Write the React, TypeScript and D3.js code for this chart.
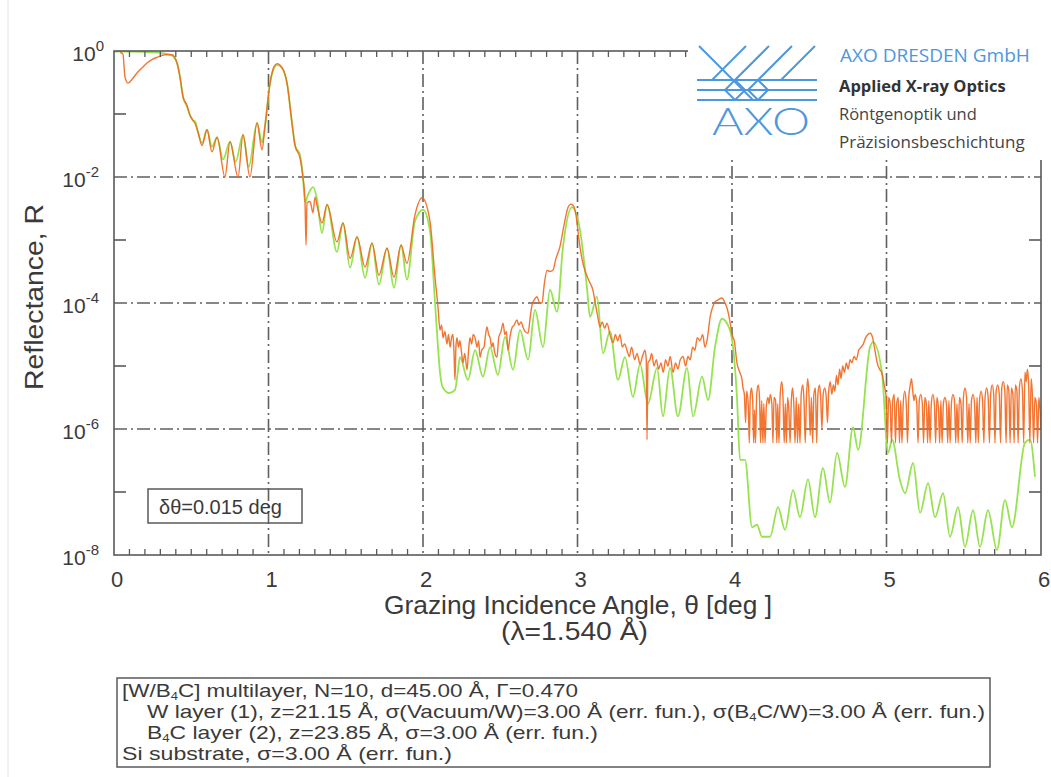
import React from 'react';
import * as d3 from 'd3';

const W = 1051;
const H = 777;

// axis values
const xTickValues = [0, 1, 2, 3, 4, 5, 6];
const xGridValues = [1, 2, 3, 4, 5];
const yLabelExponents = [0, -2, -4, -6, -8];
const yGridExponents = [-2, -4, -6];
const yOddExponents = [-1, -3, -5, -7];

// calculated reflectivity (green): [theta deg, log10 R]
const calculated: [number, number][] = [
  [0.0, -0.01], [0.1, -0.01], [0.2, -0.015], [0.3, -0.03], [0.35, -0.05], [0.38, -0.08],
  [0.408, -0.19], [0.427, -0.41], [0.447, -0.73], [0.472, -0.88], [0.492, -1.02], [0.511, -1.1],
  [0.525, -1.12], [0.544, -1.29], [0.57, -1.46], [0.602, -1.25], [0.634, -1.52], [0.667, -1.37],
  [0.706, -1.72], [0.751, -1.44], [0.787, -1.76], [0.835, -1.33], [0.872, -1.84], [0.926, -1.14],
  [0.958, -1.45], [0.977, -1.2], [1.01, -0.51], [1.035, -0.28], [1.055, -0.22], [1.087, -0.27],
  [1.12, -0.51], [1.152, -1.14], [1.172, -1.5], [1.204, -1.65], [1.223, -2.0], [1.236, -2.4],
  [1.256, -2.28], [1.288, -2.16], [1.314, -2.35], [1.346, -2.89], [1.379, -2.44], [1.443, -3.19],
  [1.482, -2.73], [1.528, -3.44], [1.573, -2.95], [1.625, -3.6], [1.67, -3.05], [1.715, -3.71],
  [1.767, -3.13], [1.812, -3.76], [1.858, -3.08], [1.896, -3.63], [1.948, -2.7], [2.0, -2.52],
  [2.045, -2.85], [2.078, -4.0], [2.097, -4.7], [2.11, -5.1], [2.13, -5.35], [2.17, -5.43],
  [2.207, -5.38], [2.225, -5.1], [2.239, -4.86], [2.291, -5.22], [2.337, -4.75], [2.388, -5.17],
  [2.434, -4.7], [2.485, -5.14], [2.531, -4.54], [2.583, -5.06], [2.628, -4.43], [2.68, -4.9],
  [2.725, -4.11], [2.777, -4.7], [2.822, -3.79], [2.867, -4.14], [2.906, -3.11], [2.964, -2.48],
  [3.016, -2.84], [3.061, -3.75], [3.081, -4.22], [3.126, -3.9], [3.165, -4.8], [3.21, -4.45],
  [3.262, -5.22], [3.307, -4.86], [3.359, -5.49], [3.405, -4.97], [3.456, -5.6], [3.515, -5.03],
  [3.553, -5.8], [3.599, -5.03], [3.65, -5.8], [3.709, -5.03], [3.748, -5.8], [3.806, -5.17],
  [3.845, -5.54], [3.89, -4.7], [3.935, -4.25], [3.987, -4.43], [4.032, -5.49], [4.052, -6.49],
  [4.084, -6.49], [4.13, -7.56], [4.162, -7.52], [4.194, -7.71], [4.246, -7.71], [4.298, -7.24],
  [4.343, -7.6], [4.395, -6.97], [4.44, -7.4], [4.492, -6.8], [4.537, -7.4], [4.589, -6.62],
  [4.634, -7.17], [4.68, -6.38], [4.731, -6.92], [4.783, -5.97], [4.816, -6.33], [4.893, -4.7],
  [4.913, -4.62], [4.971, -5.11], [5.01, -6.38], [5.036, -6.17], [5.087, -6.81], [5.12, -7.02],
  [5.172, -6.54], [5.217, -7.33], [5.269, -6.86], [5.314, -7.4], [5.366, -7.02], [5.411, -7.71],
  [5.463, -7.24], [5.508, -7.87], [5.56, -7.29], [5.605, -7.87], [5.657, -7.29], [5.715, -7.92],
  [5.767, -7.13], [5.812, -7.56], [5.896, -6.22], [5.929, -6.17], [5.961, -6.76],
];

// measured reflectivity (orange): [theta deg, log10 R]
const measuredLow: [number, number][] = [
  [0.04, -0.02], [0.058, -0.05], [0.071, -0.41], [0.091, -0.51], [0.12, -0.44], [0.149, -0.35],
  [0.18, -0.27], [0.214, -0.19], [0.25, -0.13], [0.278, -0.1], [0.33, -0.06], [0.375, -0.06],
  [0.408, -0.19], [0.427, -0.41], [0.447, -0.73], [0.472, -0.86], [0.492, -1.02], [0.511, -1.1],
  [0.525, -1.15], [0.544, -1.29], [0.57, -1.5], [0.602, -1.25], [0.634, -1.6], [0.667, -1.37],
  [0.718, -2.0], [0.751, -1.44], [0.803, -2.0], [0.835, -1.33], [0.88, -2.0], [0.926, -1.14],
  [0.958, -1.57], [0.977, -1.2], [1.01, -0.51], [1.035, -0.25], [1.055, -0.2], [1.087, -0.26],
  [1.12, -0.51], [1.152, -1.14], [1.172, -1.5], [1.204, -1.7], [1.223, -2.0], [1.236, -2.37],
  [1.243, -3.08], [1.249, -2.41], [1.269, -2.39], [1.288, -2.57], [1.301, -2.32], [1.314, -2.45],
  [1.346, -2.73], [1.379, -2.44], [1.443, -3.03], [1.482, -2.73], [1.528, -3.29], [1.573, -2.95],
  [1.625, -3.43], [1.67, -3.05], [1.715, -3.56], [1.767, -3.13], [1.812, -3.59], [1.858, -3.08],
  [1.896, -3.37], [1.948, -2.6], [1.994, -2.33], [2.045, -2.7], [2.078, -3.6],
];

const measuredMid: [number, number][] = [
  [2.097, -4.06], [2.11, -4.43], [2.12, -4.35], [2.13, -4.55], [2.142, -4.45], [2.155, -4.65],
  [2.165, -4.5], [2.175, -4.7], [2.185, -4.55], [2.194, -4.5], [2.2, -4.75], [2.207, -5.22],
  [2.213, -4.7], [2.22, -4.55], [2.23, -4.7], [2.239, -4.6], [2.25, -4.8], [2.259, -4.95],
  [2.27, -4.8], [2.285, -5.06], [2.295, -4.75], [2.304, -4.55], [2.315, -4.65], [2.325, -4.5],
  [2.337, -4.55], [2.35, -4.7], [2.36, -4.6], [2.369, -4.86], [2.38, -4.75], [2.395, -4.7],
  [2.405, -4.5], [2.414, -4.38], [2.425, -4.5], [2.434, -4.55], [2.445, -4.7], [2.453, -4.63],
  [2.465, -4.8], [2.479, -4.86], [2.49, -4.55], [2.505, -4.45], [2.518, -4.32], [2.53, -4.5],
  [2.54, -4.45], [2.55, -4.75], [2.563, -4.54], [2.575, -4.4], [2.59, -4.35], [2.608, -4.27],
  [2.62, -4.35], [2.635, -4.3], [2.647, -4.38], [2.66, -4.45], [2.68, -4.48], [2.695, -4.2],
  [2.706, -4.03], [2.72, -3.95], [2.738, -3.9], [2.755, -4.0], [2.77, -4.0], [2.785, -3.7],
  [2.803, -3.48], [2.82, -3.5], [2.841, -3.48], [2.86, -3.3], [2.887, -3.1], [2.91, -2.8],
  [2.939, -2.48], [2.955, -2.43], [2.971, -2.45], [2.99, -2.6], [3.01, -3.0], [3.029, -3.3],
  [3.05, -3.5], [3.075, -3.65], [3.1, -3.8], [3.115, -4.0], [3.13, -4.2], [3.146, -4.38],
  [3.16, -4.3], [3.175, -4.4], [3.191, -4.32], [3.21, -4.5], [3.23, -4.63], [3.245, -4.5],
  [3.26, -4.6], [3.275, -4.5], [3.29, -4.7], [3.305, -4.65], [3.32, -4.75], [3.335, -4.85],
  [3.35, -4.7], [3.37, -4.9], [3.385, -4.8], [3.405, -4.97], [3.42, -4.85], [3.437, -4.75],
  [3.445, -4.9], [3.45, -6.17], [3.456, -4.95], [3.469, -4.9], [3.48, -4.8], [3.495, -5.0],
  [3.51, -4.9], [3.525, -5.05], [3.54, -4.95], [3.555, -5.1], [3.57, -4.9], [3.585, -5.0],
  [3.6, -4.85], [3.618, -5.1], [3.635, -4.95], [3.65, -5.05], [3.665, -4.9], [3.683, -4.85],
  [3.7, -5.0], [3.715, -4.85], [3.73, -4.9], [3.745, -4.7], [3.76, -4.75], [3.775, -4.55],
  [3.793, -4.6], [3.81, -4.5], [3.825, -4.7], [3.838, -4.6], [3.86, -4.2], [3.877, -4.05],
  [3.89, -3.98], [3.91, -3.95], [3.935, -3.92], [3.955, -4.0], [3.97, -4.1], [3.987, -4.3],
  [4.0, -4.5], [4.015, -4.6], [4.032, -4.95], [4.05, -5.1], [4.065, -5.22],
];

const measuredHigh: [number, number][] = [
  [4.07, -5.33], [4.08, -5.45], [4.088, -5.9], [4.095, -5.4], [4.105, -5.6], [4.112, -6.22],
  [4.118, -5.5], [4.126, -5.35], [4.134, -5.55], [4.14, -6.22], [4.146, -5.7], [4.152, -6.22],
  [4.16, -5.45], [4.17, -5.3], [4.178, -5.5], [4.185, -6.22], [4.192, -5.55], [4.2, -6.22],
  [4.206, -5.6], [4.214, -6.22], [4.222, -5.65], [4.232, -5.5], [4.24, -5.6], [4.248, -5.45],
  [4.258, -5.6], [4.265, -6.22], [4.272, -5.5], [4.282, -5.55], [4.29, -6.22], [4.296, -5.6],
  [4.304, -6.22], [4.312, -5.45], [4.322, -5.25], [4.33, -5.5], [4.338, -6.22], [4.345, -5.6],
  [4.352, -6.22], [4.36, -5.5], [4.368, -5.7], [4.376, -6.22], [4.384, -5.55], [4.392, -5.35],
  [4.4, -5.6], [4.408, -6.22], [4.416, -5.5], [4.424, -6.22], [4.432, -5.6], [4.44, -6.22],
  [4.448, -5.45], [4.458, -5.3], [4.466, -5.55], [4.474, -6.22], [4.482, -5.5], [4.49, -5.2],
  [4.498, -5.45], [4.506, -6.1], [4.514, -5.5], [4.522, -6.22], [4.53, -5.45], [4.54, -5.35],
  [4.548, -6.22], [4.556, -5.45], [4.566, -5.3], [4.574, -5.5], [4.582, -6.0], [4.59, -5.45],
  [4.6, -5.35], [4.61, -5.5], [4.618, -5.9], [4.626, -5.4], [4.636, -5.25], [4.646, -5.45],
  [4.656, -5.3], [4.666, -5.4], [4.676, -5.15], [4.686, -5.3], [4.696, -5.05], [4.706, -5.2],
  [4.716, -5.0], [4.728, -5.1], [4.74, -4.95], [4.752, -5.05], [4.764, -4.9], [4.776, -4.95],
  [4.79, -4.85], [4.805, -4.9], [4.82, -4.75], [4.835, -4.7], [4.85, -4.65], [4.865, -4.55],
  [4.88, -4.5], [4.895, -4.48], [4.91, -4.55], [4.925, -4.75], [4.94, -4.95], [4.955, -5.05],
  [4.97, -5.11], [4.985, -5.3], [4.998, -5.5], [5.006, -6.22], [5.014, -5.5], [5.024, -5.6],
  [5.032, -6.22], [5.04, -5.55], [5.05, -5.45], [5.058, -6.22], [5.066, -5.6], [5.076, -5.5],
  [5.084, -6.22], [5.092, -5.55], [5.1, -6.22], [5.108, -5.6], [5.118, -5.4], [5.128, -5.6],
  [5.136, -6.22], [5.144, -5.5], [5.154, -5.3], [5.162, -5.2], [5.17, -5.4], [5.178, -5.55],
  [5.186, -5.45], [5.196, -5.6], [5.204, -6.22], [5.212, -5.55], [5.222, -5.45], [5.232, -5.6],
  [5.24, -6.22], [5.248, -5.5], [5.258, -5.6], [5.266, -6.22], [5.274, -5.55], [5.282, -6.22],
  [5.29, -5.6], [5.3, -5.45], [5.31, -5.6], [5.318, -6.22], [5.326, -5.5], [5.336, -5.65],
  [5.344, -6.22], [5.352, -5.55], [5.36, -6.22], [5.368, -5.6], [5.378, -5.5], [5.388, -5.6],
  [5.396, -6.22], [5.404, -5.55], [5.412, -6.22], [5.42, -5.6], [5.43, -5.45], [5.44, -5.55],
  [5.448, -6.22], [5.456, -5.6], [5.464, -6.22], [5.472, -5.5], [5.482, -5.6], [5.49, -6.22],
  [5.498, -5.5], [5.508, -5.35], [5.518, -5.5], [5.526, -6.22], [5.534, -5.6], [5.542, -6.22],
  [5.55, -5.55], [5.56, -5.45], [5.57, -5.6], [5.578, -6.22], [5.586, -5.5], [5.594, -6.22],
  [5.602, -5.55], [5.612, -5.4], [5.622, -5.55], [5.63, -6.22], [5.638, -5.5], [5.648, -5.35],
  [5.658, -5.5], [5.666, -6.22], [5.674, -5.45], [5.684, -5.3], [5.694, -5.45], [5.702, -6.22],
  [5.71, -5.4], [5.72, -5.3], [5.73, -5.45], [5.738, -6.22], [5.746, -5.35], [5.756, -5.25],
  [5.766, -5.4], [5.774, -6.22], [5.782, -5.3], [5.792, -5.4], [5.8, -6.22], [5.808, -5.35],
  [5.818, -5.45], [5.826, -6.22], [5.834, -5.3], [5.844, -5.4], [5.852, -6.22], [5.86, -5.35],
  [5.87, -5.2], [5.88, -5.4], [5.888, -6.22], [5.896, -5.1], [5.904, -5.25], [5.912, -5.05],
  [5.92, -5.3], [5.928, -6.22], [5.936, -5.2], [5.944, -5.45], [5.952, -6.22], [5.96, -5.5],
  [5.97, -5.6], [5.978, -6.22], [5.986, -5.5], [5.994, -5.7], [6.0, -6.0],
];

const measured = [...measuredLow, ...measuredMid, ...measuredHigh];

const AXIS = '#5a5a5a';
const TEXT = '#3a3a3a';
const ORANGE = '#f2661c';
const GREEN = '#97e24f';
const BLUE = '#4c97de';
const SANS = "'Liberation Sans', Arial, sans-serif";
const LOGO_FONT = "'Open Sans', 'Noto Sans', sans-serif";

export default function App() {
  const x = d3.scaleLinear().domain([0, 6]).range([114, 1041]);
  const y = d3.scaleLog().domain([1e-8, 1]).range([555, 51]);
  const [x0, x1] = x.range();
  const [yb, yt] = y.range();

  const line = d3
    .line<[number, number]>()
    .x((d) => x(d[0]))
    .y((d) => y(Math.pow(10, d[1])))
    .curve(d3.curveMonotoneX);

  const minorX = x.ticks(60).filter((v) => Math.abs(v - Math.round(v)) > 1e-6);
  const logoLeft = 688;
  const logoBottom = 160;

  const grid = '13,4,2,4';

  return (
    <svg
      width={W}
      height={H}
      style={{ position: 'absolute', left: 0, top: 0, background: '#fff' }}
      fontFamily={SANS}
    >
      <rect x={0} y={0} width={W} height={H} fill="#fff" />
      <line x1={8} y1={0} x2={8} y2={H} stroke="#e2e4ee" strokeWidth={1} />
      <defs>
        <clipPath id="plotClip">
          <rect x={x0} y={yt} width={x1 - x0} height={yb - yt} />
        </clipPath>
      </defs>

      {/* grid */}
      {xGridValues.map((v) => (
        <line key={'gx' + v} x1={x(v)} x2={x(v)} y1={yt} y2={yb} stroke="#606060" strokeWidth={1.6} strokeDasharray={grid} />
      ))}
      {yGridExponents.map((e) => (
        <line key={'gy' + e} x1={x0} x2={x1} y1={y(Math.pow(10, e))} y2={y(Math.pow(10, e))} stroke="#606060" strokeWidth={1.6} strokeDasharray={grid} />
      ))}

      {/* data */}
      <g clipPath="url(#plotClip)">
        <path d={line(calculated) || ''} fill="none" stroke={GREEN} strokeWidth={1.8} />
        <path d={line(measured) || ''} fill="none" stroke={ORANGE} strokeWidth={1.4} strokeOpacity={0.9} strokeLinejoin="round" />
      </g>

      {/* frame */}
      <rect x={x0} y={yt} width={x1 - x0} height={yb - yt} fill="none" stroke={AXIS} strokeWidth={1.6} />

      {/* ticks */}
      {minorX.map((v) => (
        <g key={'mx' + v}>
          <line x1={x(v)} x2={x(v)} y1={yb} y2={yb - 6} stroke={AXIS} strokeWidth={1.3} />
          {x(v) < logoLeft && <line x1={x(v)} x2={x(v)} y1={yt} y2={yt + 6} stroke={AXIS} strokeWidth={1.3} />}
        </g>
      ))}
      {yOddExponents.map((e) => (
        <g key={'ty' + e}>
          <line x1={x0} x2={x0 + 12} y1={y(Math.pow(10, e))} y2={y(Math.pow(10, e))} stroke={AXIS} strokeWidth={1.6} />
          <line x1={x1} x2={x1 - 12} y1={y(Math.pow(10, e))} y2={y(Math.pow(10, e))} stroke={AXIS} strokeWidth={1.6} />
        </g>
      ))}

      {/* tick labels */}
      {xTickValues.map((v) => (
        <text key={'xl' + v} x={x(v) + 3} y={587} textAnchor="middle" fontSize={22} fill={TEXT}>
          {v}
        </text>
      ))}
      {yLabelExponents.map((e) => (
        <text key={'yl' + e} x={e === 0 ? 104 : 99} y={y(Math.pow(10, e)) + 10} textAnchor="end" fontSize={21} fill={TEXT}>
          10
          <tspan fontSize={15} dy={-10}>{e === 0 ? '0' : '-' + Math.abs(e)}</tspan>
        </text>
      ))}

      {/* axis titles */}
      <text x={384} y={614} fontSize={25} fill={TEXT} textLength={388} lengthAdjust="spacingAndGlyphs">
        Grazing Incidence Angle, θ [deg ]
      </text>
      <text x={501} y={640} fontSize={25} fill={TEXT} textLength={147} lengthAdjust="spacingAndGlyphs">
        (λ=1.540 Å)
      </text>
      <text transform="translate(43,390) rotate(-90)" fontSize={26} fill={TEXT} textLength={186} lengthAdjust="spacingAndGlyphs">
        Reflectance, R
      </text>

      {/* resolution box */}
      <rect x={148} y={489} width={154} height={34} fill="none" stroke={AXIS} strokeWidth={1.5} />
      <text x={159} y={514} fontSize={20} fill={TEXT}>
        δθ=0.015 deg
      </text>

      {/* logo */}
      <rect x={logoLeft} y={24} width={W - logoLeft} height={logoBottom - 24} fill="#fff" />
      <g stroke={BLUE} strokeWidth={2} fill="none">
        <line x1={697} x2={817} y1={80} y2={80} />
        <line x1={697} x2={817} y1={90} y2={90} />
        <line x1={697} x2={817} y1={100} y2={100} />
        <line x1={699} y1={46} x2={753} y2={100} />
        <line x1={746} y1={46} x2={712} y2={80} />
        <line x1={769} y1={46} x2={735} y2={80} />
        <line x1={792} y1={46} x2={758} y2={80} />
        <line x1={815} y1={46} x2={781} y2={80} />
        <line x1={735} y1={80} x2={745} y2={90} />
        <line x1={745} y1={90} x2={735} y2={100} />
        <line x1={758} y1={80} x2={748} y2={90} />
        <line x1={748} y1={90} x2={758} y2={100} />
        <line x1={758} y1={80} x2={768} y2={90} />
        <line x1={768} y1={90} x2={758} y2={100} />
        <line x1={735} y1={80} x2={725} y2={90} />
        <line x1={725} y1={90} x2={735} y2={100} />
      </g>
      <text x={712} y={135} fontSize={38} fontFamily="Lato, 'Open Sans', sans-serif" fontWeight={300} fill={BLUE} textLength={98} lengthAdjust="spacingAndGlyphs">
        AXO
      </text>
      <text x={840} y={62} fontSize={19} fontFamily={LOGO_FONT} fill={BLUE}>
        AXO DRESDEN GmbH
      </text>
      <text x={839} y={92} fontSize={16.5} fontFamily={LOGO_FONT} fontWeight={700} fill="#333">
        Applied X-ray Optics
      </text>
      <text x={839} y={120} fontSize={16.5} fontFamily={LOGO_FONT} fill="#444">
        Röntgenoptik und
      </text>
      <text x={839} y={148} fontSize={17} fontFamily={LOGO_FONT} fill="#444">
        Präzisionsbeschichtung
      </text>

      {/* parameter box */}
      <rect x={117} y={678} width={873} height={89} fill="none" stroke={AXIS} strokeWidth={1.5} />
      <text x={122} y={697} fontSize={19} fill={TEXT} textLength={456} lengthAdjust="spacingAndGlyphs">
        [W/B<tspan fontSize={11} dy={3}>4</tspan><tspan dy={-3}>C] multilayer, N=10, d=45.00 Å, Γ=0.470</tspan>
      </text>
      <text x={147} y={718} fontSize={19} fill={TEXT} textLength={838} lengthAdjust="spacingAndGlyphs">
        W layer (1), z=21.15 Å, σ(Vacuum/W)=3.00 Å (err. fun.), σ(B<tspan fontSize={11} dy={3}>4</tspan><tspan dy={-3}>C/W)=3.00 Å (err. fun.)</tspan>
      </text>
      <text x={147} y={739} fontSize={19} fill={TEXT} textLength={451} lengthAdjust="spacingAndGlyphs">
        B<tspan fontSize={11} dy={3}>4</tspan><tspan dy={-3}>C layer (2), z=23.85 Å, σ=3.00 Å (err. fun.)</tspan>
      </text>
      <text x={122} y={760} fontSize={19} fill={TEXT} textLength={330} lengthAdjust="spacingAndGlyphs">
        Si substrate, σ=3.00 Å (err. fun.)
      </text>
    </svg>
  );
}
